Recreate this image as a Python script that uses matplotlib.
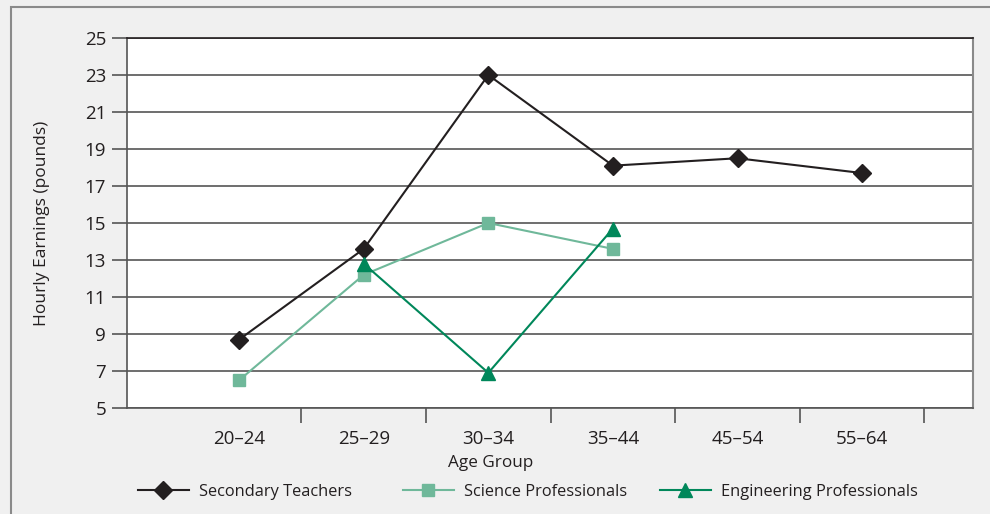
import matplotlib
matplotlib.use("Agg")
from matplotlib import pyplot as plt
from matplotlib.patches import Rectangle

plt.rcParams['font.family'] = ['Open Sans', 'DejaVu Sans']

age_groups = ["20\u201324", "25\u201329", "30\u201334", "35\u201344", "45\u201354", "55\u201364"]
teachers = [8.7, 13.6, 23.0, 18.1, 18.5, 17.7]
science = [6.5, 12.2, 15.0, 13.6]
engineering_x = [1, 2, 3]
engineering = [12.8, 6.9, 14.7]
y_ticks = list(range(5, 26, 2))

W, H = 990, 514
fig = plt.figure(figsize=(W / 100, H / 100), dpi=100)
fig.patch.set_facecolor("#f0f0f0")
# outer frame (left and top edges visible)
fig.add_artist(Rectangle((11 / W, -0.1), 1.2, (H - 7) / H + 0.1, transform=fig.transFigure,
                         fill=False, edgecolor="#8a8a8a", linewidth=1.5))

ax = fig.add_axes([127 / W, 1 - 408 / H, (973 - 127) / W, (408 - 38) / H])
ax.set_facecolor("white")

x = list(range(len(age_groups)))
l1, = ax.plot(x, teachers, color="#231f20", marker="D", markersize=9, linewidth=1.5,
              label="Secondary Teachers", zorder=3)
l2, = ax.plot(x[:len(science)], science, color="#6fb89a", marker="s", markersize=8.5,
              linewidth=1.5, label="Science Professionals", zorder=3)
l3, = ax.plot(engineering_x, engineering, color="#00875a", marker="^", markersize=10,
              linewidth=1.5, label="Engineering Professionals", zorder=3)

ax.set_ylim(5, 25)
ax.set_xlim(-0.9, 5.89)
ax.set_yticks(y_ticks)
ax.yaxis.grid(True, color="#555555", linewidth=1.2)
ax.set_axisbelow(True)

ax.set_xticks(x)
ax.set_xticklabels(age_groups)
ax.set_xticks([i + 0.5 for i in x], minor=True)
ax.tick_params(axis="x", which="major", length=0, pad=16, labelsize=13.5, colors="#231f20")
ax.tick_params(axis="x", which="minor", length=11, width=1.2, color="#555555", direction="out")
ax.tick_params(axis="y", length=11, width=1.2, color="#555555", pad=4, labelsize=13.5,
               labelcolor="#231f20")

for side in ["left", "bottom"]:
    ax.spines[side].set_color("#555555")
    ax.spines[side].set_linewidth(1.2)
ax.spines["right"].set_color("#8a8a8a")
ax.spines["right"].set_linewidth(1.5)
ax.spines["top"].set_color("#231f20")
ax.spines["top"].set_linewidth(1.2)

fig.text(42 / W, 1 - 223 / H, "Hourly Earnings (pounds)", rotation=90, ha="center", va="center",
         fontsize=12.5, color="#231f20")
fig.text(491 / W, 1 - 463 / H, "Age Group", ha="center", va="center", fontsize=12.3, color="#231f20")

# one legend entry per column, placed where the reference puts them
for line, x0 in [(l1, 138), (l2, 403), (l3, 660)]:
    leg = fig.legend(handles=[line], loc="center left", bbox_to_anchor=(x0 / W, 1 - 492 / H),
                     frameon=False, fontsize=11.8, handlelength=3.1, handletextpad=0.6,
                     borderpad=0, borderaxespad=0, labelcolor="#231f20")

fig.savefig("out.png", dpi=100, facecolor=fig.get_facecolor())
